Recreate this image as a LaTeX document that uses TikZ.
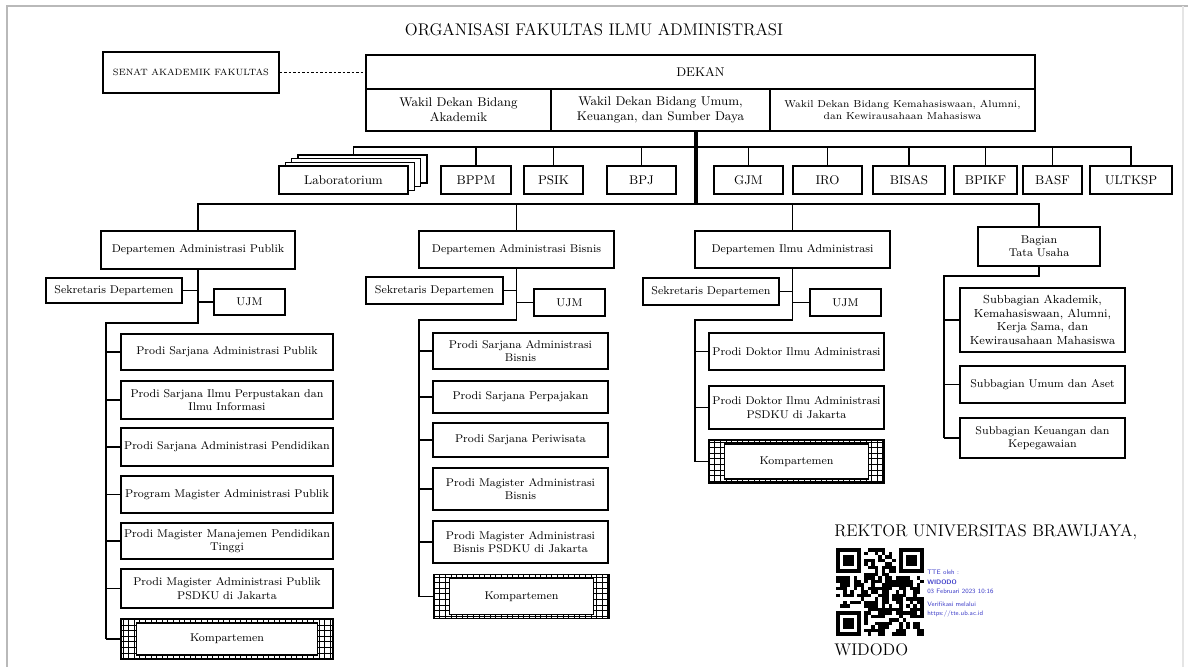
\documentclass[tikz,border=0pt]{standalone}
\usepackage{fontspec}
\usetikzlibrary{calc}
\newcommand{\pxu}{0.025cm}
\definecolor{tteblue}{RGB}{60,60,200}
\begin{document}
\begin{tikzpicture}[x=0.025cm, y=-0.025cm,
    box/.style={draw, line width=0.9pt, fill=white, align=center, inner sep=1pt,
      font=\fontsize{8}{9.5}\selectfont},
    sz/.style 2 args={minimum width=#1*\pxu, minimum height=#2*\pxu},
    unitbox/.style={box, font=\fontsize{9}{10}\selectfont},
    link/.style={line width=0.9pt},
    kompbox/.style={box, path picture={
        \draw[line width=0.4pt, step=0.14cm] (path picture bounding box.south west) grid (path picture bounding box.north east);
        \draw[fill=white, line width=0.9pt] ([xshift=0.39cm, yshift=-0.1cm]path picture bounding box.north west)
          rectangle ([xshift=-0.39cm, yshift=0.1cm]path picture bounding box.south east);}},
  ]
  \useasboundingbox (0,0) rectangle (1188,666);
  % page edge
  \draw[gray!55, line width=2pt] (7,690) -- (7,6) -- (1190,6);
  \draw[gray!20, line width=1pt] (1183,6) -- (1183,690);

  \node (title) at (594,30) {\fontsize{12}{14}\selectfont ORGANISASI FAKULTAS ILMU ADMINISTRASI};

  % top
  \node[box, sz={176}{41}, font=\fontsize{6.5}{8}\selectfont] (senat) at (191,72.5) {SENAT AKADEMIK FAKULTAS};
  \node[box, sz={669}{34}, font=\fontsize{9}{10}\selectfont] (dekan) at (700.5,72) {DEKAN};
  \node[box, sz={185}{42}, font=\fontsize{9}{10.5}\selectfont] (wd1) at (458.5,110) {Wakil Dekan Bidang\\Akademik};
  \node[box, sz={219}{42}, font=\fontsize{9}{10.5}\selectfont] (wd2) at (660.5,110) {Wakil Dekan Bidang Umum,\\Keuangan, dan Sumber Daya};
  \node[box, sz={265}{42}, font=\fontsize{7.2}{9}\selectfont] (wd3) at (902.5,110) {Wakil Dekan Bidang Kemahasiswaan, Alumni,\\dan Kewirausahaan Mahasiswa};
  \draw[link, dash pattern=on 2pt off 1.2pt] (senat.east) -- (senat.east -| dekan.west);

  % units
  \foreach \d in {3,2,1}
    \draw[line width=0.9pt, fill=white] (279+6.3*\d,166-3.7*\d) rectangle ++(129,28);
  \node[unitbox, sz={129}{28}] (lab) at (343.5,180) {Laboratorium};
  \node[unitbox, sz={70}{28}] (bppm) at (476,180) {BPPM};
  \node[unitbox, sz={59}{28}] (psik) at (553.5,180) {PSIK};
  \node[unitbox, sz={69}{28}] (bpj) at (641.5,180) {BPJ};
  \node[unitbox, sz={69}{28}] (gjm) at (748.5,180) {GJM};
  \node[unitbox, sz={69}{28}] (iro) at (827.5,180) {IRO};
  \node[unitbox, sz={72}{28}] (bisas) at (909,180) {BISAS};
  \node[unitbox, sz={63}{28}] (bpikf) at (985.5,180) {BPIKF};
  \node[unitbox, sz={59}{28}] (basf) at (1052.5,180) {BASF};
  \node[unitbox, sz={82}{28}] (ultksp) at (1131,180) {ULTKSP};
  \coordinate (ubus) at (0,147);
  \coordinate (labback) at ($(lab.north)+(10,-11)$);
  \draw[link] (labback) -- (labback |- ubus) -- (ultksp.north |- ubus) -- (ultksp.north);
  \foreach \u in {bppm,psik,bpj,gjm,iro,bisas,bpikf,basf}
    \draw[link] (\u.north) -- (\u.north |- ubus);

  % departments
  \node[box, sz={194}{38}] (dap) at (198,250) {Departemen Administrasi Publik};
  \node[box, sz={195}{37}] (dab) at (516.5,249.5) {Departemen Administrasi Bisnis};
  \node[box, sz={195}{37}] (dia) at (792.5,249.5) {Departemen Ilmu Administrasi};
  \node[box, sz={122}{39}] (btu) at (1039,246.5) {Bagian\\Tata Usaha};
  \coordinate (tk) at (696,131);
  \coordinate (dbus) at (0,204);
  \draw[line width=2.6pt] (tk) -- (tk |- dbus);
  \draw[link] (dap.north) -- (dap.north |- dbus) -- (btu.north |- dbus) -- (btu.north);
  \draw[link] (dab.north) -- (dab.north |- dbus);
  \draw[link] (dia.north) -- (dia.north |- dbus);

  % Administrasi Publik
  \node[box, sz={136}{25}] (sek1) at (114,290.5) {Sekretaris Departemen};
  \node[box, sz={71}{26}] (ujm1) at (249.5,302) {UJM};
  \node[box, sz={212}{36}] (p11) at (227,352) {Prodi Sarjana Administrasi Publik};
  \node[box, sz={212}{38}] (p12) at (227,400) {Prodi Sarjana Ilmu Perpustakan dan\\Ilmu Informasi};
  \node[box, sz={212}{38}] (p13) at (227,447) {Prodi Sarjana Administrasi Pendidikan};
  \node[box, sz={212}{37}] (p14) at (227,494.5) {Program Magister Administrasi Publik};
  \node[box, sz={212}{36}] (p15) at (227,541) {Prodi Magister Manajemen Pendidikan\\Tinggi};
  \node[box, sz={212}{39}] (p16) at (227,588.5) {Prodi Magister Administrasi Publik\\PSDKU di Jakarta};
  \node[kompbox, sz={212}{40}] (k1) at (227,639) {Kompartemen};
  \coordinate (sp1) at (106,323);
  \draw[link] (dap.south) |- (sp1) -- (sp1 |- k1.west);
  \draw[link] (sek1.east) -- (sek1.east -| dap.south);
  \draw[link] (ujm1.west) -- (ujm1.west -| dap.south);
  \foreach \n in {p11,p12,p13,p14,p15,p16,k1}
    \draw[link] (\n.west) -- (\n.west -| sp1);

  % Administrasi Bisnis
  \node[box, sz={137}{27}] (sek2) at (434.5,290.5) {Sekretaris Departemen};
  \node[box, sz={71}{27}] (ujm2) at (569.5,302.5) {UJM};
  \node[box, sz={175}{36}] (p21) at (520.5,351) {Prodi Sarjana Administrasi\\Bisnis};
  \node[box, sz={175}{32}] (p22) at (520.5,397) {Prodi Sarjana Perpajakan};
  \node[box, sz={175}{34}] (p23) at (520.5,440) {Prodi Sarjana Periwisata};
  \node[box, sz={175}{42}] (p24) at (520.5,489) {Prodi Magister Administrasi\\Bisnis};
  \node[box, sz={175}{42}] (p25) at (520.5,542) {Prodi Magister Administrasi\\Bisnis PSDKU di Jakarta};
  \node[kompbox, sz={175}{44}] (k2) at (521.5,596.5) {Kompartemen};
  \coordinate (sp2) at (419,320);
  \draw[link] (dab.south) |- (sp2) -- (sp2 |- k2.west);
  \draw[link] (sek2.east) -- (sek2.east -| dab.south);
  \draw[link] (ujm2.west) -- (ujm2.west -| dab.south);
  \foreach \n in {p21,p22,p23,p24,p25,k2}
    \draw[link] (\n.west) -- (\n.west -| sp2);

  % Ilmu Administrasi
  \node[box, sz={136}{27}] (sek3) at (711,291.5) {Sekretaris Departemen};
  \node[box, sz={71}{27}] (ujm3) at (845.5,302.5) {UJM};
  \node[box, sz={175}{37}] (p31) at (796.5,351.5) {Prodi Doktor Ilmu Administrasi};
  \node[box, sz={175}{43}] (p32) at (796.5,407.5) {Prodi Doktor Ilmu Administrasi\\PSDKU di Jakarta};
  \node[kompbox, sz={175}{43}] (k3) at (796.5,461.5) {Kompartemen};
  \coordinate (sp3) at (695,320);
  \draw[link] (dia.south) |- (sp3) -- (sp3 |- k3.west);
  \draw[link] (sek3.east) -- (sek3.east -| dia.south);
  \draw[link] (ujm3.west) -- (ujm3.west -| dia.south);
  \foreach \n in {p31,p32,k3}
    \draw[link] (\n.west) -- (\n.west -| sp3);

  % Tata Usaha
  \node[box, sz={165}{64}, font=\fontsize{8.3}{9.6}\selectfont] (s1) at (1042.5,320) {Subbagian Akademik,\\Kemahasiswaan, Alumni,\\Kerja Sama, dan\\Kewirausahaan Mahasiswa};
  \node[box, sz={165}{37}] (s2) at (1042.5,384.5) {Subbagian Umum dan Aset};
  \node[box, sz={165}{40}] (s3) at (1042.5,438) {Subbagian Keuangan dan\\Kepegawaian};
  \coordinate (sp4) at (944,276);
  \draw[link] (btu.south) |- (sp4) -- (sp4 |- s3.west);
  \foreach \n in {s1,s2,s3}
    \draw[link] (\n.west) -- (\n.west -| sp4);

  % signature
  \node[anchor=west, inner sep=0pt] (rektor) at (834,532) {\fontsize{12}{14}\selectfont REKTOR UNIVERSITAS BRAWIJAYA,};
  \begin{scope}[shift={(836,548)}]
    \pgfmathsetseed{7}
    \foreach \i in {0,...,24}
      \foreach \j in {0,...,24} {
        \pgfmathtruncatemacro{\bit}{rnd+0.6}
        \ifnum\bit=1 \fill (3.5*\i,3.5*\j) rectangle ++(3.5,3.5); \fi
      }
    \foreach \fx/\fy in {0/0,59.5/0,0/59.5}
      \fill[white] (\fx,\fy) rectangle ++(28,28);
    \foreach \fx/\fy in {0/0,63/0,0/63} {
      \fill (\fx,\fy) rectangle ++(24.5,24.5);
      \fill[white] (\fx+3.5,\fy+3.5) rectangle ++(17.5,17.5);
      \fill (\fx+7,\fy+7) rectangle ++(10.5,10.5);
    }
  \end{scope}
  \node[anchor=north west, inner sep=0pt, align=left, text=tteblue,
    font=\sffamily\fontsize{4.6}{6.7}\selectfont] (tte) at (927,570)
    {TTE oleh :\\\textbf{WIDODO}\\03 Februari 2023 10:16\\[2.5pt]Verifikasi melalui\\https://tte.ub.ac.id};
  \node[anchor=west, inner sep=0pt] (widodo) at (834,650) {\fontsize{12}{14}\selectfont WIDODO};
\end{tikzpicture}
\end{document}
